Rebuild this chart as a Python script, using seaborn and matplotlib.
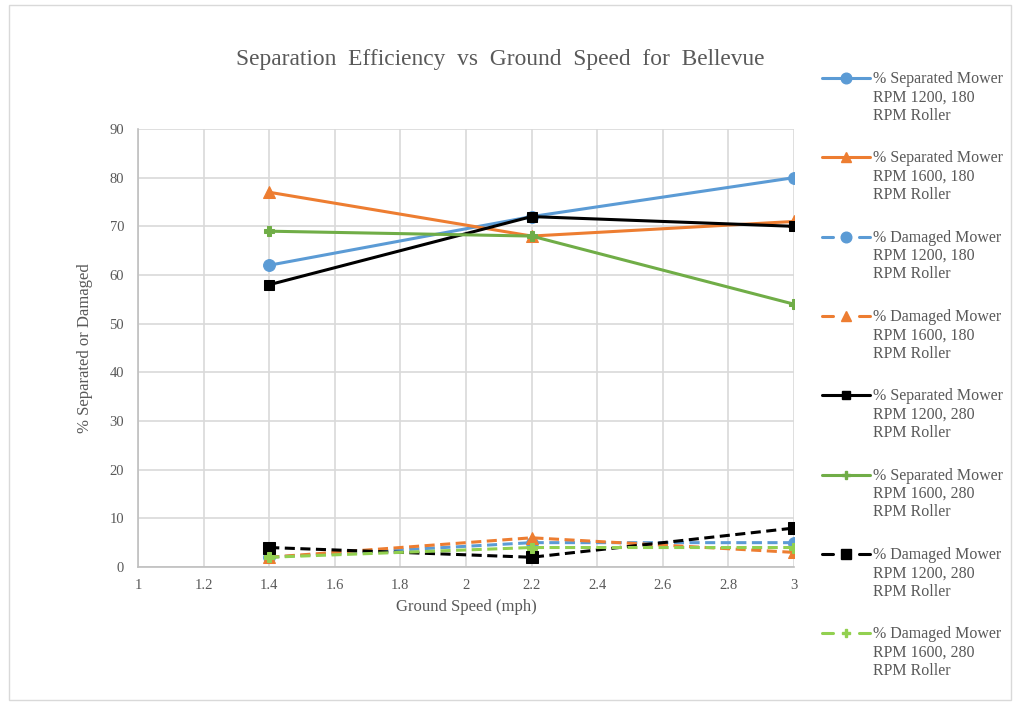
import matplotlib
matplotlib.use("Agg")
import matplotlib.pyplot as plt
import matplotlib.patches as mpatches
from matplotlib.lines import Line2D
import seaborn as sns
import pandas as pd

ground_speed = [1.4, 2.2, 3.0]

sep_1200_180 = [62, 72, 80]
sep_1600_180 = [77, 68, 71]
dmg_1200_180 = [2, 5, 5]
dmg_1600_180 = [2, 6, 3]
sep_1200_280 = [58, 72, 70]
sep_1600_280 = [69, 68, 54]
dmg_1200_280 = [4, 2, 8]
dmg_1600_280 = [2, 4, 4]

labels = [
    "% Separated Mower\nRPM 1200, 180\nRPM Roller",
    "% Separated Mower\nRPM 1600, 180\nRPM Roller",
    "% Damaged Mower\nRPM 1200, 180\nRPM Roller",
    "% Damaged Mower\nRPM 1600, 180\nRPM Roller",
    "% Separated Mower\nRPM 1200, 280\nRPM Roller",
    "% Separated Mower\nRPM 1600, 280\nRPM Roller",
    "% Damaged Mower\nRPM 1200, 280\nRPM Roller",
    "% Damaged Mower\nRPM 1600, 280\nRPM Roller",
]
series = [sep_1200_180, sep_1600_180, dmg_1200_180, dmg_1600_180,
          sep_1200_280, sep_1600_280, dmg_1200_280, dmg_1600_280]

SOLID = None
DASH = (3.3, 1.8)
styles = [
    dict(color="#5B9BD5", marker="o", dash=SOLID, ms=8.5),
    dict(color="#ED7D31", marker="^", dash=SOLID, ms=8.5),
    dict(color="#5B9BD5", marker="o", dash=DASH, ms=8.5),
    dict(color="#ED7D31", marker="^", dash=DASH, ms=8.5),
    dict(color="#000000", marker="s", dash=SOLID, ms=7),
    dict(color="#70AD47", marker="P", dash=SOLID, ms=7),
    dict(color="#000000", marker="s", dash=DASH, ms=8.5),
    dict(color="#92D050", marker="P", dash=DASH, ms=7),
]

sns.set_style("white")
plt.rcParams["font.family"] = ["Liberation Serif", "DejaVu Serif"]
TEXT = "#595959"

fig = plt.figure(figsize=(10.17, 7.06), dpi=100)
ax = fig.add_axes([0.1357, 0.1969, 0.6450, 0.6204])

for vals, lab, st in zip(series, labels, styles):
    df = pd.DataFrame({"speed": ground_speed, "value": vals})
    sns.lineplot(data=df, x="speed", y="value", ax=ax, color=st["color"],
                 marker=st["marker"], markersize=st["ms"], linewidth=2.2,
                 markeredgecolor=st["color"], legend=False)
    line = ax.get_lines()[-1]
    if st["dash"] is not None:
        line.set_dashes(st["dash"])

ax.set_xlim(1, 3)
ax.set_ylim(0, 90)
ax.set_xticks([1, 1.2, 1.4, 1.6, 1.8, 2, 2.2, 2.4, 2.6, 2.8, 3])
ax.set_xticklabels(["1", "1.2", "1.4", "1.6", "1.8", "2", "2.2", "2.4", "2.6", "2.8", "3"])
ax.set_yticks(range(0, 91, 10))
ax.grid(True, color="#D9D9D9", linewidth=1.2)
ax.set_axisbelow(True)
for side, sp in ax.spines.items():
    if side in ("left", "bottom"):
        sp.set_color("#BFBFBF")
        sp.set_linewidth(1.2)
    else:
        sp.set_visible(False)
ax.tick_params(axis="both", length=0, labelsize=10.5, labelcolor=TEXT)
ax.tick_params(axis="y", pad=10)
ax.tick_params(axis="x", pad=9)
ax.set_xlabel("Ground Speed (mph)", fontsize=12, color=TEXT, labelpad=5)
ax.set_ylabel("% Separated or Damaged", fontsize=12, color=TEXT, labelpad=12)

fig.text(0.492, 0.916, "Separation  Efficiency  vs  Ground  Speed  for  Bellevue",
         ha="center", va="center", fontsize=16.8, color=TEXT)

# legend on the right, one handle per series next to a three-line label
W, H = 1017, 706
for i, (lab, st) in enumerate(zip(labels, styles)):
    yc = 1 - (78 + 79.3 * i) / H
    x0, x1 = 822 / W, 870 / W
    if st["dash"] is None:
        fig.add_artist(Line2D([x0, x1], [yc, yc], transform=fig.transFigure,
                              color=st["color"], linewidth=2.2))
    else:
        fig.add_artist(Line2D([x0, 833 / W], [yc, yc], transform=fig.transFigure,
                              color=st["color"], linewidth=2.2))
        fig.add_artist(Line2D([859 / W, x1], [yc, yc], transform=fig.transFigure,
                              color=st["color"], linewidth=2.2))
    fig.add_artist(Line2D([846 / W], [yc], transform=fig.transFigure,
                          color=st["color"], marker=st["marker"],
                          markersize=st["ms"] * 0.9, linestyle="none",
                          markeredgecolor=st["color"]))
    fig.text(873 / W, yc + 7 / H, lab, ha="left", va="top", fontsize=11.5,
             color=TEXT, linespacing=1.2)

fig.patches.append(mpatches.Rectangle((0.009, 0.008), 0.985, 0.985,
                                      transform=fig.transFigure, fill=False,
                                      edgecolor="#D9D9D9", linewidth=1))

fig.savefig("out.png", dpi=100, facecolor="white")
